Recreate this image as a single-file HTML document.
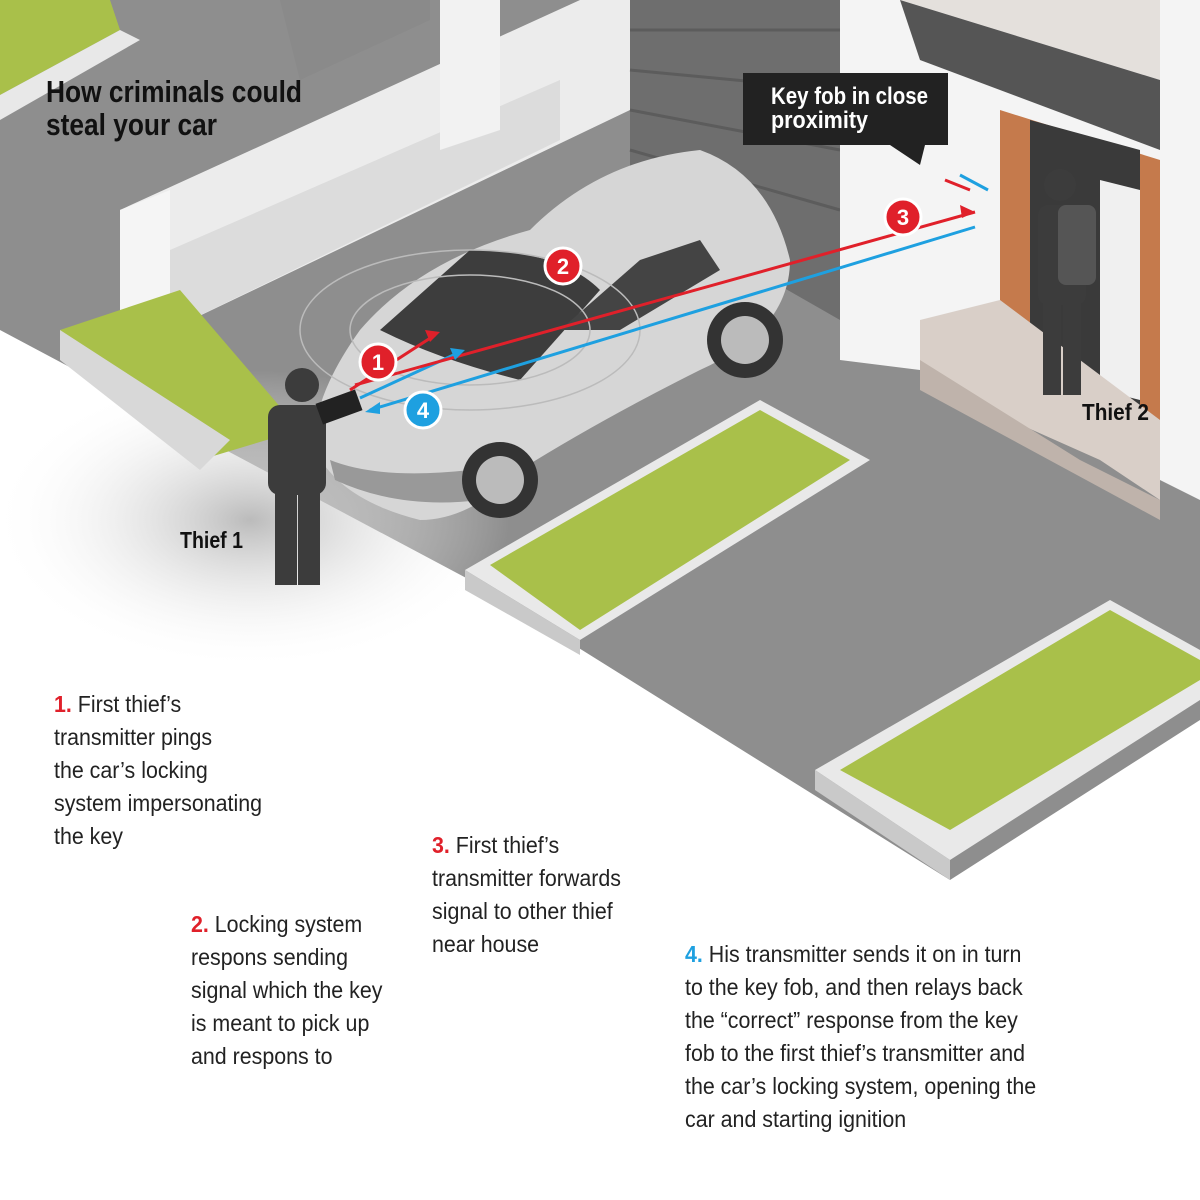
<!DOCTYPE html>
<html><head><meta charset="utf-8"><style>
body{margin:0;width:1200px;height:1200px;overflow:hidden;background:#fff;font-family:"Liberation Sans",sans-serif}
.t{position:absolute;font-size:23px;line-height:33px;color:#222;font-family:"Liberation Sans",sans-serif;transform:scaleX(0.93);transform-origin:0 0;white-space:nowrap}
.n{font-weight:bold}
</style></head><body>
<svg width="1200" height="1200" style="position:absolute;left:0;top:0">
<defs><radialGradient id="sh" cx="0.5" cy="0.5" r="0.5"><stop offset="0" stop-color="#bbb"/><stop offset="1" stop-color="#fff" stop-opacity="0"/></radialGradient></defs>
<polygon points="0,0 1200,0 1200,720 950,880 470,580 0,330" fill="#8e8e8e"/>
<ellipse cx="250" cy="520" rx="260" ry="150" fill="url(#sh)"/>
<polygon points="0,0 110,0 120,30 0,95" fill="#a9c04a"/>
<polygon points="0,95 120,30 140,40 0,120" fill="#e8e8e8"/>
<polygon points="120,210 580,0 630,0 630,110 170,330" fill="#ececec"/>
<polygon points="120,210 170,190 170,390 120,400" fill="#f5f5f5"/>
<polygon points="170,250 560,80 560,140 170,330" fill="#dcdcdc"/>
<polygon points="280,0 430,0 430,20 300,80" fill="#8a8a8a"/>
<polygon points="440,0 500,0 500,130 440,150" fill="#f2f2f2"/>
<polygon points="630,0 840,0 840,320 630,200" fill="#6e6e6e"/>
<g stroke="#5c5c5c" stroke-width="3"><line x1="630" y1="30" x2="840" y2="30"/><line x1="630" y1="70" x2="840" y2="90"/><line x1="630" y1="110" x2="840" y2="150"/><line x1="630" y1="150" x2="840" y2="210"/></g>
<polygon points="60,330 180,290 300,430 200,460" fill="#a9c04a"/>
<polygon points="60,330 60,360 200,470 230,440" fill="#d8d8d8"/>
<polygon points="840,0 1200,0 1200,500 1160,480 1160,400 840,360" fill="#f4f4f4"/>
<polygon points="860,0 1160,0 1160,80 900,0" fill="#e4e0dc"/>
<polygon points="900,0 1160,80 1160,150 920,60" fill="#555"/>
<polygon points="1000,110 1160,160 1160,420 1000,370" fill="#c57a4c"/>
<polygon points="1030,120 1140,150 1140,410 1030,380" fill="#3a3a3a"/>
<polygon points="1100,180 1140,190 1140,400 1100,390" fill="#f0f0f0"/>
<polygon points="920,320 1000,300 1160,420 1160,500 1100,460 920,380" fill="#d9cfc8"/>
<polygon points="920,360 1080,460 1160,500 1160,520 920,390" fill="#bfb3ab"/>
<polygon points="465,570 760,400 870,460 580,640" fill="#e9e9e9"/>
<polygon points="490,565 760,410 850,460 580,630" fill="#a9c04a"/>
<polygon points="465,570 580,640 580,655 465,590" fill="#c9c9c9"/>
<polygon points="815,770 1110,600 1200,650 1200,700 950,860" fill="#e9e9e9"/>
<polygon points="840,770 1110,610 1200,660 1200,680 950,830" fill="#a9c04a"/>
<polygon points="815,770 950,860 950,880 815,790" fill="#c9c9c9"/>
<g>
<path d="M315,450 Q310,400 360,330 Q420,260 530,230 Q600,160 700,150 Q770,175 790,260 Q790,330 700,370 Q600,420 520,470 Q470,520 420,520 Q340,500 315,450Z" fill="#d6d6d6"/>
<path d="M380,330 L470,250 Q560,250 600,290 L520,380 Q440,360 380,330Z" fill="#3d3d3d"/>
<path d="M560,330 L640,260 L700,240 L720,270 L620,330 Z" fill="#444"/>
<path d="M330,460 Q380,480 470,470 L480,500 Q400,510 335,480Z" fill="#999"/>
<circle cx="500" cy="480" r="38" fill="#333"/><circle cx="500" cy="480" r="24" fill="#bbb"/>
<circle cx="745" cy="340" r="38" fill="#333"/><circle cx="745" cy="340" r="24" fill="#bbb"/>
<ellipse cx="470" cy="330" rx="170" ry="80" fill="none" stroke="#bbb" stroke-width="1.5"/>
<ellipse cx="470" cy="330" rx="120" ry="55" fill="none" stroke="#bbb" stroke-width="1.5"/>
</g>
<g fill="#3c3c3c"><circle cx="302" cy="385" r="17"/><rect x="268" y="405" width="58" height="90" rx="12"/><rect x="275" y="490" width="22" height="95"/><rect x="298" y="490" width="22" height="95"/><rect x="318" y="396" width="42" height="22" fill="#222" transform="rotate(-20 339 407)"/></g>
<g fill="#3c3c3c"><circle cx="1060" cy="185" r="16"/><rect x="1038" y="205" width="48" height="100" rx="10"/><rect x="1058" y="205" width="38" height="80" rx="8" fill="#555"/><rect x="1043" y="300" width="18" height="95"/><rect x="1063" y="300" width="18" height="95"/></g>
<g stroke-width="3" fill="none">
<line x1="350" y1="390" x2="435" y2="335" stroke="#e0202a"/>
<line x1="360" y1="398" x2="460" y2="352" stroke="#1ea0e0"/>
<line x1="355" y1="385" x2="975" y2="212" stroke="#e0202a"/>
<line x1="370" y1="410" x2="975" y2="227" stroke="#1ea0e0"/>
<line x1="945" y1="180" x2="970" y2="190" stroke="#e0202a"/>
<line x1="960" y1="175" x2="988" y2="190" stroke="#1ea0e0"/>
</g>
<polygon points="975,212 960,205 962,218" fill="#e0202a"/>
<polygon points="440,332 425,330 430,342" fill="#e0202a"/>
<polygon points="465,350 450,348 455,360" fill="#1ea0e0"/>
<polygon points="365,412 380,402 380,414" fill="#1ea0e0"/>
<g font-family="Liberation Sans" font-weight="bold" font-size="22" fill="#fff" text-anchor="middle">
<circle cx="378" cy="362" r="18" fill="#e0202a" stroke="#fff" stroke-width="3"/><text x="378" y="370">1</text>
<circle cx="563" cy="266" r="18" fill="#e0202a" stroke="#fff" stroke-width="3"/><text x="563" y="274">2</text>
<circle cx="903" cy="217" r="18" fill="#e0202a" stroke="#fff" stroke-width="3"/><text x="903" y="225">3</text>
<circle cx="423" cy="410" r="18" fill="#1ea0e0" stroke="#fff" stroke-width="3"/><text x="423" y="418">4</text>
</g>
<rect x="743" y="73" width="205" height="72" fill="#222"/>
<polygon points="890,145 925,145 920,165" fill="#222"/>
<g font-family="Liberation Sans" font-weight="bold">
<text x="771" y="104" font-size="24" fill="#fff" textLength="157" lengthAdjust="spacingAndGlyphs">Key fob in close</text>
<text x="771" y="128" font-size="24" fill="#fff" textLength="97" lengthAdjust="spacingAndGlyphs">proximity</text>
<text x="46" y="102" font-size="31" fill="#111" textLength="256" lengthAdjust="spacingAndGlyphs">How criminals could</text>
<text x="46" y="135" font-size="31" fill="#111" textLength="171" lengthAdjust="spacingAndGlyphs">steal your car</text>
<text x="180" y="548" font-size="23" fill="#111" textLength="63" lengthAdjust="spacingAndGlyphs">Thief 1</text>
<text x="1082" y="420" font-size="23" fill="#111" textLength="67" lengthAdjust="spacingAndGlyphs">Thief 2</text>
</g>
</svg>
<div class="t" style="left:54px;top:688px"><span class="n" style="color:#e0202a">1.</span> First thief’s<br>transmitter pings<br>the car’s locking<br>system impersonating<br>the key</div>
<div class="t" style="left:191px;top:908px"><span class="n" style="color:#e0202a">2.</span> Locking system<br>respons sending<br>signal which the key<br>is meant to pick up<br>and respons to</div>
<div class="t" style="left:432px;top:829px"><span class="n" style="color:#e0202a">3.</span> First thief’s<br>transmitter forwards<br>signal to other thief<br>near house</div>
<div class="t" style="left:685px;top:938px"><span class="n" style="color:#1ea0e0">4.</span> His transmitter sends it on in turn<br>to the key fob, and then relays back<br>the “correct” response from the key<br>fob to the first thief’s transmitter and<br>the car’s locking system, opening the<br>car and starting ignition</div>
</body></html>
